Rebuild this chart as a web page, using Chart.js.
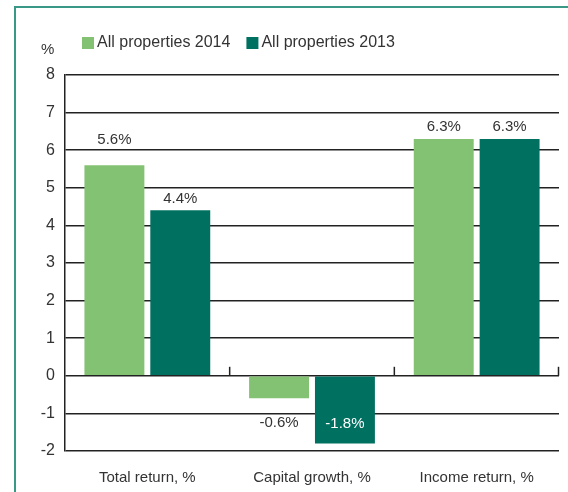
<!DOCTYPE html>
<html>
<head>
<meta charset="utf-8">
<script src="https://cdn.jsdelivr.net/npm/chart.js@4.4.1/dist/chart.umd.min.js"></script>
<style>
  html, body { margin: 0; padding: 0; background: #fff; }
  #wrap { position: relative; width: 568px; height: 492px; }
  #frame {
    position: absolute; left: 14px; top: 6px; right: 0; bottom: 0;
    border-left: 2px solid #3a9886; border-top: 2px solid #3a9886;
  }
  canvas { position: absolute; left: 0; top: 0; }
</style>
</head>
<body>
<div id="wrap">
  <div id="frame"></div>
  <canvas id="chart" width="568" height="492"></canvas>
</div>
<script>
// Chart data
const categories = ['Total return, %', 'Capital growth, %', 'Income return, %'];
const seriesNames = ['All properties 2014', 'All properties 2013'];
const values2014 = [5.6, -0.6, 6.3];
const values2013 = [4.4, -1.8, 6.3];
const yTicks = [-2, -1, 0, 1, 2, 3, 4, 5, 6, 7, 8];

const colors = ['#84c273', '#007060'];
const FONT = '"Liberation Sans", Arial, sans-serif';

// Draws legend, % unit, value labels and zero-line tick marks
const extrasPlugin = {
  id: 'extras',
  afterDatasetsDraw(chart) {
    const ctx = chart.ctx;
    const x = chart.scales.x;
    const y = chart.scales.y;
    const area = chart.chartArea;
    ctx.save();

    // legend
    ctx.font = '16px ' + FONT;
    ctx.textBaseline = 'middle';
    ctx.textAlign = 'left';
    let lx = 82;
    seriesNames.forEach((name, i) => {
      ctx.fillStyle = colors[i];
      ctx.fillRect(lx, 37, 12, 12);
      ctx.fillStyle = '#333';
      ctx.fillText(name, lx + 15, 43);
      lx += 15 + ctx.measureText(name).width + 16;
    });

    // unit label
    ctx.font = '15px ' + FONT;
    ctx.fillText('%', 41, 50);

    // tick marks on the zero line at category boundaries
    const y0 = y.getPixelForValue(0);
    ctx.strokeStyle = '#222';
    ctx.lineWidth = 1.5;
    for (let i = 1; i <= categories.length; i++) {
      const bx = i === categories.length ? area.right - 0.5 : (x.getPixelForValue(i - 1) + x.getPixelForValue(i)) / 2;
      ctx.beginPath();
      ctx.moveTo(bx, y0);
      ctx.lineTo(bx, y0 - 9);
      ctx.stroke();
    }

    // value labels
    ctx.font = '15px ' + FONT;
    ctx.textAlign = 'center';
    chart.data.datasets.forEach((ds, di) => {
      const meta = chart.getDatasetMeta(di);
      meta.data.forEach((bar, i) => {
        const v = ds.data[i];
        const text = v.toFixed(1) + '%';
        let ty;
        let col = '#333';
        if (v >= 0) {
          ty = bar.y - 12;
          if (di === 0 && i === 0) ty = bar.y - 25;
        } else if (di === 0) {
          ty = bar.y + 24;
        } else {
          ty = bar.y - 20;
          col = '#fff';
        }
        ctx.fillStyle = col;
        ctx.fillText(text, bar.x, ty);
      });
    });
    ctx.restore();
  }
};

const chart = new Chart(document.getElementById('chart'), {
  type: 'bar',
  data: {
    labels: categories,
    datasets: [
      { label: seriesNames[0], data: values2014, backgroundColor: colors[0] },
      { label: seriesNames[1], data: values2013, backgroundColor: colors[1] }
    ]
  },
  options: {
    responsive: false,
    animation: false,
    events: [],
    layout: { padding: { left: 0, right: 9, top: 75, bottom: 0 } },
    datasets: {
      bar: { categoryPercentage: 0.8, barPercentage: 0.91 }
    },
    plugins: {
      legend: { display: false },
      tooltip: { enabled: false }
    },
    scales: {
      x: {
        grid: { display: false },
        border: { display: false },
        ticks: { color: '#333', font: { family: FONT, size: 15 }, padding: 10 },
        afterFit: s => { s.height = 41; }
      },
      y: {
        min: -2,
        max: 8,
        afterBuildTicks: s => { s.ticks = yTicks.map(v => ({ value: v })); },
        grid: { color: '#222', lineWidth: 1.5, drawTicks: false },
        border: { display: true, color: '#222', width: 1.5 },
        ticks: { color: '#333', font: { family: FONT, size: 16 }, padding: 10 },
        afterFit: s => { s.width = 65; }
      }
    }
  },
  plugins: [extrasPlugin]
});
</script>
</body>
</html>
